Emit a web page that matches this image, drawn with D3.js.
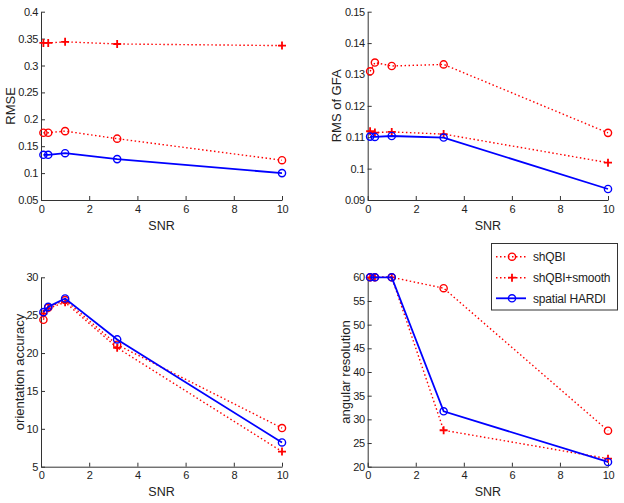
<!DOCTYPE html>
<html><head><meta charset="utf-8">
<script src="https://cdn.jsdelivr.net/npm/d3@7/dist/d3.min.js"></script>
<style>body{margin:0;background:#fff}svg{display:block}text{font-family:Arial,"Liberation Sans",sans-serif}</style>
</head><body>
<svg id="c" width="624" height="503"></svg>
<script>
const snr = [0.1, 0.3, 1, 3.16, 10];
const seriesNames = ["shQBI", "shQBI+smooth", "spatial HARDI"];
// panel 1: RMSE
const rmseQBI = [0.175, 0.175, 0.178, 0.164, 0.124];
const rmseSmooth = [0.342, 0.342, 0.344, 0.340, 0.337];
const rmseHARDI = [0.134, 0.134, 0.137, 0.126, 0.100];
// panel 2: RMS of GFA
const gfaQBI = [0.1310, 0.1338, 0.1327, 0.1332, 0.1114];
const gfaSmooth = [0.1119, 0.1115, 0.1117, 0.1110, 0.1019];
const gfaHARDI = [0.1102, 0.1101, 0.1104, 0.1099, 0.0935];
// panel 3: orientation accuracy
const oriQBI = [24.4, 26.0, 27.0, 21.1, 10.1];
const oriSmooth = [25.2, 25.9, 26.7, 20.7, 7.0];
const oriHARDI = [25.4, 26.1, 27.2, 21.8, 8.2];
// panel 4: angular resolution
const angQBI = [60, 60, 60, 57.7, 27.6];
const angSmooth = [60, 60, 60, 27.7, 21.7];
const angHARDI = [60, 60, 60, 31.7, 21.0];

const xTicks = [0, 2, 4, 6, 8, 10];
const yTicks1 = [0.05, 0.1, 0.15, 0.2, 0.25, 0.3, 0.35, 0.4];
const yTicks2 = [0.09, 0.1, 0.11, 0.12, 0.13, 0.14, 0.15];
const yTicks3 = [5, 10, 15, 20, 25, 30];
const yTicks4 = [20, 25, 30, 35, 40, 45, 50, 55, 60];

const panels = [
  {x0: 41, x1: 282, y0: 11.7, y1: 200, dom: [0.05, 0.4], ticks: yTicks1, label: "RMSE", lx: 10.5, data: [rmseQBI, rmseSmooth, rmseHARDI], xl: 230},
  {x0: 367.7, x1: 608, y0: 11.7, y1: 200, dom: [0.09, 0.15], ticks: yTicks2, label: "RMS of GFA", lx: 336.5, data: [gfaQBI, gfaSmooth, gfaHARDI], xl: 230},
  {x0: 41, x1: 282, y0: 277.3, y1: 466.7, dom: [5, 30], ticks: yTicks3, label: "orientation accuracy", lx: 19, data: [oriQBI, oriSmooth, oriHARDI], xl: 496},
  {x0: 367.7, x1: 608, y0: 277.3, y1: 466.7, dom: [20, 60], ticks: yTicks4, label: "angular resolution", lx: 345, data: [angQBI, angSmooth, angHARDI], xl: 496}
];

const styles = [
  {color: "#ff0000", dash: "1.5,2.5", w: 1.4, marker: "o"},
  {color: "#ff0000", dash: "1.5,2.5", w: 1.4, marker: "+"},
  {color: "#0000ff", dash: null, w: 1.8, marker: "o"}
];

const svg = d3.select("#c");
const axisColor = "#333";

function drawMarker(g, type, x, y, color) {
  if (type === "o") {
    g.append("circle").attr("cx", x).attr("cy", y).attr("r", 3.6)
      .attr("fill", "none").attr("stroke", color).attr("stroke-width", 1.4);
  } else {
    g.append("path").attr("d", `M${x-4},${y}H${x+4}M${x},${y-4}V${y+4}`)
      .attr("stroke", color).attr("stroke-width", 1.8).attr("fill", "none");
  }
}

panels.forEach(p => {
  const xs = d3.scaleLinear().domain([0, 10]).range([p.x0, p.x1]);
  const ys = d3.scaleLinear().domain(p.dom).range([p.y1, p.y0]);
  const g = svg.append("g");

  const xa = g.append("g").attr("transform", `translate(0,${p.y1})`)
    .call(d3.axisBottom(xs).tickValues(xTicks).tickSizeInner(-4).tickSizeOuter(0).tickPadding(5).tickFormat(d3.format("d")));
  const ya = g.append("g").attr("transform", `translate(${p.x0},0)`)
    .call(d3.axisLeft(ys).tickValues(p.ticks).tickSizeInner(-4).tickSizeOuter(0).tickPadding(3).tickFormat(d => String(+d.toFixed(4))));
  [xa, ya].forEach(a => {
    a.select(".domain").attr("stroke", axisColor).attr("stroke-width", 1);
    a.selectAll(".tick line").attr("stroke", axisColor);
    a.selectAll(".tick text").attr("fill", "#222").style("font-size", "11px")
      .style("letter-spacing", "-0.4px").style("font-family", "Arial, 'Liberation Sans', sans-serif");
  });

  g.append("text").attr("x", (p.x0 + p.x1) / 2).attr("y", p.xl).attr("text-anchor", "middle")
    .attr("fill", "#222").style("font-size", "12.5px").text("SNR");
  g.append("text").attr("transform", `translate(${p.lx},${(p.y0 + p.y1) / 2}) rotate(-90)`)
    .attr("text-anchor", "middle").attr("dy", "0.35em").attr("fill", "#222").style("font-size", "13px").text(p.label);

  p.data.forEach((vals, i) => {
    const s = styles[i];
    const line = d3.line().x((d, j) => xs(snr[j])).y(d => ys(d));
    g.append("path").datum(vals).attr("d", line).attr("fill", "none")
      .attr("stroke", s.color).attr("stroke-width", s.w)
      .attr("stroke-dasharray", s.dash);
    vals.forEach((v, j) => drawMarker(g, s.marker, xs(snr[j]), ys(v), s.color));
  });
});

// legend
const lg = svg.append("g");
lg.append("rect").attr("x", 491.5).attr("y", 243.5).attr("width", 126).attr("height", 66.5)
  .attr("fill", "#fff").attr("stroke", "#333").attr("stroke-width", 1);
const legY = [256.7, 277.7, 298.3];
seriesNames.forEach((n, i) => {
  const s = styles[i];
  lg.append("line").attr("x1", 496).attr("x2", 526).attr("y1", legY[i]).attr("y2", legY[i])
    .attr("stroke", s.color).attr("stroke-width", s.w).attr("stroke-dasharray", s.dash);
  drawMarker(lg, s.marker, 512, legY[i], s.color);
  lg.append("text").attr("x", 533).attr("y", legY[i]).attr("dy", "0.35em")
    .attr("fill", "#222").style("font-size", "12px").style("letter-spacing", "-0.2px").text(n);
});
</script>
</body></html>
